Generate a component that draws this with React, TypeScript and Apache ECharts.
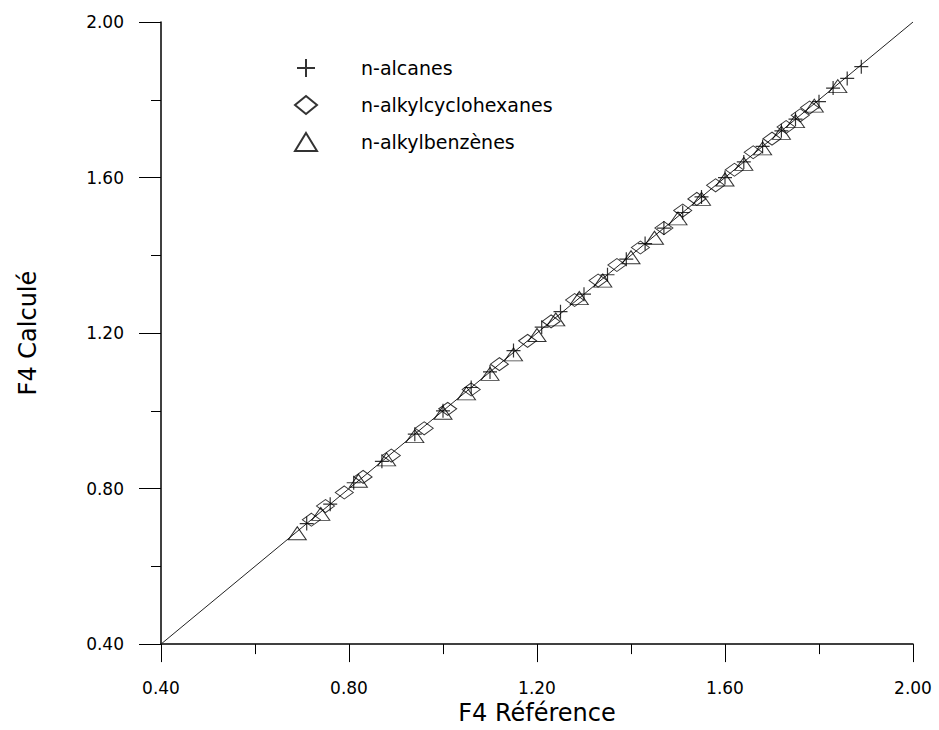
import React, { useEffect, useRef } from "react";
import * as echarts from "echarts";

// F4 reference value vs calculated value for three homologous series
const alcanesRef = [0.71, 0.76, 0.81, 0.87, 0.94, 1.00, 1.06, 1.10, 1.15, 1.21, 1.25, 1.30, 1.35, 1.39, 1.43, 1.47, 1.51, 1.55, 1.60, 1.64, 1.68, 1.72, 1.75, 1.80, 1.83, 1.86, 1.89];
const alcanesCalc = [0.71, 0.76, 0.815, 0.87, 0.94, 1.00, 1.06, 1.10, 1.155, 1.215, 1.255, 1.30, 1.35, 1.39, 1.43, 1.47, 1.51, 1.55, 1.60, 1.64, 1.68, 1.72, 1.75, 1.795, 1.83, 1.855, 1.885];

const cycloRef = [0.72, 0.75, 0.79, 0.83, 0.89, 0.96, 1.01, 1.06, 1.12, 1.18, 1.23, 1.28, 1.33, 1.37, 1.42, 1.47, 1.51, 1.54, 1.58, 1.62, 1.66, 1.70, 1.73, 1.76, 1.78];
const cycloCalc = [0.72, 0.755, 0.79, 0.83, 0.885, 0.955, 1.005, 1.055, 1.12, 1.18, 1.23, 1.285, 1.335, 1.375, 1.42, 1.47, 1.515, 1.545, 1.58, 1.62, 1.665, 1.70, 1.73, 1.76, 1.78];

const benzRef = [0.69, 0.74, 0.82, 0.88, 0.94, 1.00, 1.05, 1.10, 1.15, 1.20, 1.24, 1.29, 1.34, 1.40, 1.45, 1.50, 1.55, 1.60, 1.64, 1.68, 1.72, 1.75, 1.79, 1.84];
const benzCalc = [0.685, 0.735, 0.82, 0.875, 0.935, 0.995, 1.045, 1.095, 1.145, 1.195, 1.235, 1.29, 1.335, 1.395, 1.445, 1.495, 1.545, 1.595, 1.635, 1.675, 1.715, 1.745, 1.785, 1.835];

const seriesNames = ["n-alcanes", "n-alkylcyclohexanes", "n-alkylbenzènes"];
const axisMin = 0.4;
const axisMax = 2.0;
const axisStep = 0.4;
const identityLine = [[axisMin, axisMin], [axisMax, axisMax]];

const pairs = (xs: number[], ys: number[]) => xs.map((x, i) => [x, ys[i]]);

const PLUS = "path://M0,10L20,10M10,0L10,20";
const FONT = "DejaVu Sans, Verdana, sans-serif";

export default function App() {
  const ref = useRef<HTMLDivElement>(null);

  useEffect(() => {
    document.body.style.margin = "0";
    const chart = echarts.init(ref.current!, null, { renderer: "svg" });
    const hollow = { color: "transparent", borderColor: "#000", borderWidth: 1 };
    const axisCommon = {
      type: "value" as const,
      min: axisMin,
      max: axisMax,
      interval: axisStep,
      splitLine: { show: false },
      axisLine: { show: true, lineStyle: { color: "#000", width: 1.5 } },
      minorTick: { show: true, splitNumber: 2, length: 10, lineStyle: { color: "#000", width: 1 } },
      axisLabel: {
        color: "#000",
        fontFamily: FONT,
        fontSize: 17,
        formatter: (v: number) => v.toFixed(2),
      },
      nameLocation: "middle" as const,
      nameTextStyle: { color: "#000", fontFamily: FONT, fontSize: 24 },
    };
    chart.setOption({
      animation: false,
      backgroundColor: "#fff",
      grid: { left: 161, right: 26, top: 22, bottom: 83 },
      xAxis: {
        ...axisCommon,
        name: "F4 Référence",
        nameGap: 52,
        axisTick: { show: true, length: 18, lineStyle: { color: "#000", width: 1 } },
        axisLabel: { ...axisCommon.axisLabel, margin: 35 },
      },
      yAxis: {
        ...axisCommon,
        name: "F4 Calculé",
        nameGap: 121,
        axisTick: { show: true, length: 22, lineStyle: { color: "#000", width: 1 } },
        axisLabel: { ...axisCommon.axisLabel, margin: 37 },
      },
      legend: {
        orient: "vertical",
        left: 289,
        top: 53,
        itemWidth: 22,
        itemHeight: 18,
        itemGap: 17,
        data: seriesNames,
        textStyle: { color: "#000", fontFamily: FONT, fontSize: 19, padding: [0, 0, 0, 39] },
      },
      series: [
        {
          type: "line",
          data: identityLine,
          symbol: "none",
          silent: true,
          lineStyle: { color: "#222", width: 1 },
          z: 1,
        },
        {
          name: seriesNames[0],
          type: "scatter",
          data: pairs(alcanesRef, alcanesCalc),
          symbol: PLUS,
          symbolSize: 14,
          itemStyle: { color: "transparent", borderColor: "#000", borderWidth: 1.2 },
          z: 4,
        },
        {
          name: seriesNames[1],
          type: "scatter",
          data: pairs(cycloRef, cycloCalc),
          symbol: "diamond",
          symbolSize: [18, 13],
          itemStyle: hollow,
          z: 3,
        },
        {
          name: seriesNames[2],
          type: "scatter",
          data: pairs(benzRef, benzCalc),
          symbol: "triangle",
          symbolSize: [18, 13],
          itemStyle: hollow,
          z: 3,
        },
      ],
    });
    return () => chart.dispose();
  }, []);

  return <div ref={ref} style={{ width: 939, height: 730 }} />;
}
